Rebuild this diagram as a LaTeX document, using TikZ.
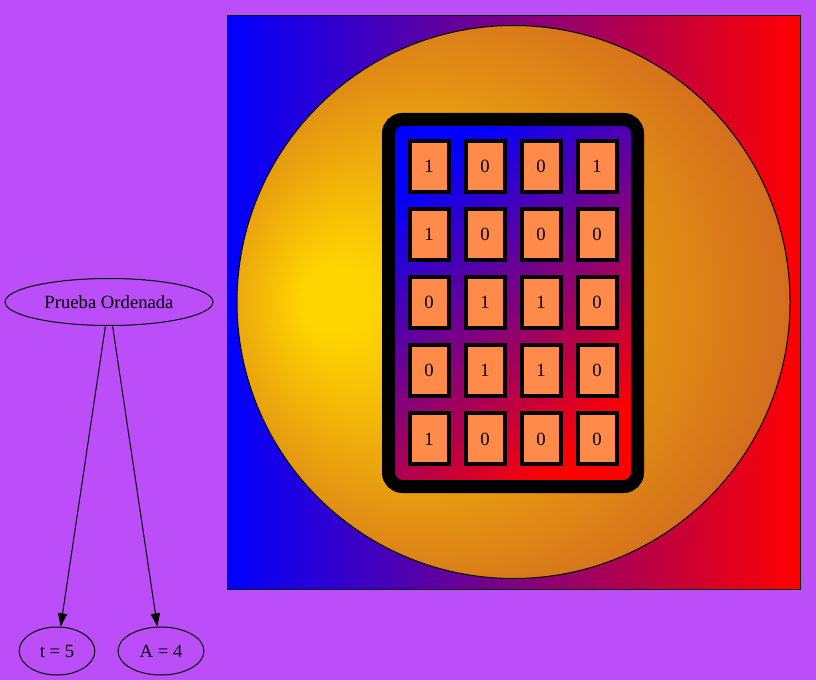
\documentclass[tikz,border=0pt]{standalone}
\usepackage{fontspec}
\setmainfont{Liberation Serif}
\usetikzlibrary{arrows.meta,shapes.geometric}
\definecolor{bgpurple}{RGB}{188,78,250}
\definecolor{cellorange}{RGB}{255,138,74}
\definecolor{gvgold}{RGB}{255,215,0}
\definecolor{gvchoc}{RGB}{210,105,30}
\pgfdeclareradialshading{orb}{\pgfpoint{-17.5bp}{0bp}}{color(0bp)=(gvgold); color(2.5bp)=(gvgold); color(30bp)=(gvchoc); color(37.5bp)=(gvchoc)}
\tikzset{
  lbl/.style={draw, ellipse, line width=0.75pt, inner sep=0pt, font=\fontsize{14}{16}\selectfont},
  bit/.style={draw, line width=3pt, fill=cellorange, minimum width=29.25pt, minimum height=38.25pt, inner sep=0pt, font=\fontsize{14}{16}\selectfont},
  edge/.style={line width=0.75pt, -{Triangle[length=10pt,width=7pt]}},
}
\begin{document}
\begin{tikzpicture}[x=0.75pt,y=-0.75pt]
\fill[bgpurple] (0,0) rectangle (816,680);
\useasboundingbox (0,0) rectangle (816,680);
\node[lbl, minimum width=156pt, minimum height=35.25pt] (po) at (109,302) {Prueba Ordenada};
\node[lbl, minimum width=56.7pt, minimum height=36pt] (t5) at (57,651) {t = 5};
\node[lbl, minimum width=64.5pt, minimum height=36pt] (a4) at (161,651) {A = 4};
\draw[edge] (po) -- (t5);
\draw[edge] (po) -- (a4);
\node[draw, line width=0.75pt, minimum size=429.75pt, left color=blue, right color=red] (frame) at (513.5,302.5) {};
\node[draw, line width=0.75pt, circle, minimum size=414.75pt, shading=orb] (globe) at (513.5,302) {};
\node[draw, line width=9.75pt, rounded corners=10.5pt, minimum width=186.75pt, minimum height=275.25pt, shading=axis, top color=blue, bottom color=red, shading angle=40] (tbl) at (513,303) {};
\def\ya{166.5};\def\yb{234.6};\def\yc{302.7};\def\yd{370.8};\def\ye{438.9};
\node[bit] (c11) at (429,\ya) {1}; \node[bit] (c12) at (485,\ya) {0}; \node[bit] (c13) at (541,\ya) {0}; \node[bit] (c14) at (597,\ya) {1};
\node[bit] (c21) at (429,\yb) {1}; \node[bit] (c22) at (485,\yb) {0}; \node[bit] (c23) at (541,\yb) {0}; \node[bit] (c24) at (597,\yb) {0};
\node[bit] (c31) at (429,\yc) {0}; \node[bit] (c32) at (485,\yc) {1}; \node[bit] (c33) at (541,\yc) {1}; \node[bit] (c34) at (597,\yc) {0};
\node[bit] (c41) at (429,\yd) {0}; \node[bit] (c42) at (485,\yd) {1}; \node[bit] (c43) at (541,\yd) {1}; \node[bit] (c44) at (597,\yd) {0};
\node[bit] (c51) at (429,\ye) {1}; \node[bit] (c52) at (485,\ye) {0}; \node[bit] (c53) at (541,\ye) {0}; \node[bit] (c54) at (597,\ye) {0};
\end{tikzpicture}
\end{document}
